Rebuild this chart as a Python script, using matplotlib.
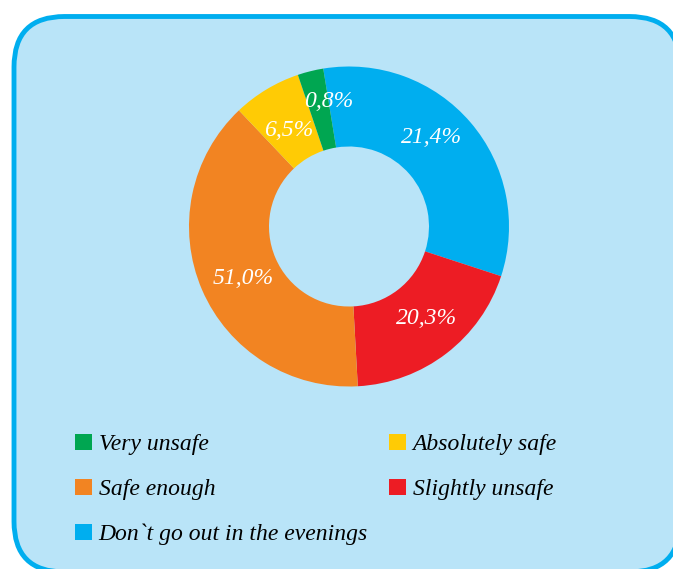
import matplotlib
matplotlib.use("Agg")
import matplotlib.pyplot as plt
from matplotlib.patches import FancyBboxPatch, Patch
import numpy as np

# shares as drawn, clockwise from the top (the printed labels differ from the drawn sizes)
categories = ["Don`t go out in the evenings", "Slightly unsafe", "Safe enough",
              "Absolutely safe", "Very unsafe"]
shares = [32.6, 19.1, 38.8, 6.9, 2.6]
pct_labels = ["21,4%", "20,3%", "51,0%", "6,5%", "0,8%"]
colors = ["#00AEEF", "#ED1C24", "#F28422", "#FFCB05", "#00A651"]

# legend order as it reads in the picture (column by column)
legend_order = ["Very unsafe", "Safe enough", "Don`t go out in the evenings",
                "Absolutely safe", "Slightly unsafe"]

# label placement tweaks: clockwise angle shift (deg) from wedge middle, radius
label_shift = [-6.8, -2.6, -2.9, -1.2, 4.9]
label_radius = [0.76, 0.75, 0.74, 0.71, 0.79]

W, H = 673, 569
fig = plt.figure(figsize=(W / 100, H / 100), dpi=100)
fig.patch.set_facecolor("white")

# rounded light-blue panel, running off the right and bottom edges
box = FancyBboxPatch((14 / W, 1 - 572 / H), (680 - 14) / W, (572 - 16.5) / H,
                     boxstyle="round,pad=0,rounding_size=0.075",
                     transform=fig.transFigure, facecolor="#B9E4F8",
                     edgecolor="#00AEEF", linewidth=3.5, mutation_aspect=W / H,
                     clip_on=False, zorder=-10)
fig.patches.append(box)

font = dict(family="Liberation Serif", style="italic")

cx, cy, R = 349, 226.5, 160
ax = fig.add_axes([(cx - R) / W, 1 - (cy + R) / H, 2 * R / W, 2 * R / H])
ax.set_zorder(5)
wedges, _ = ax.pie(shares, colors=colors, startangle=99.27, counterclock=False,
                   radius=1, wedgeprops=dict(width=0.5, linewidth=0))
ax.set_xlim(-1, 1)
ax.set_ylim(-1, 1)
ax.axis("off")

for w, lab, sh, r in zip(wedges, pct_labels, label_shift, label_radius):
    ang = np.deg2rad((w.theta1 + w.theta2) / 2 - sh)
    ax.text(r * np.cos(ang), r * np.sin(ang), lab, ha="center", va="center",
            color="white", fontsize=17, **font)

handles = [Patch(facecolor=colors[categories.index(c)], label=c) for c in legend_order]
fig.legend(handles=handles, ncol=2, loc="upper left",
           bbox_to_anchor=(75 / W, 1 - 433.5 / H), frameon=False,
           prop=dict(size=17, **font),
           handlelength=0.7, handleheight=0.7, handletextpad=0.3,
           columnspacing=0.9, labelspacing=1.0, borderpad=0, borderaxespad=0)

fig.savefig("out.png", dpi=100)
